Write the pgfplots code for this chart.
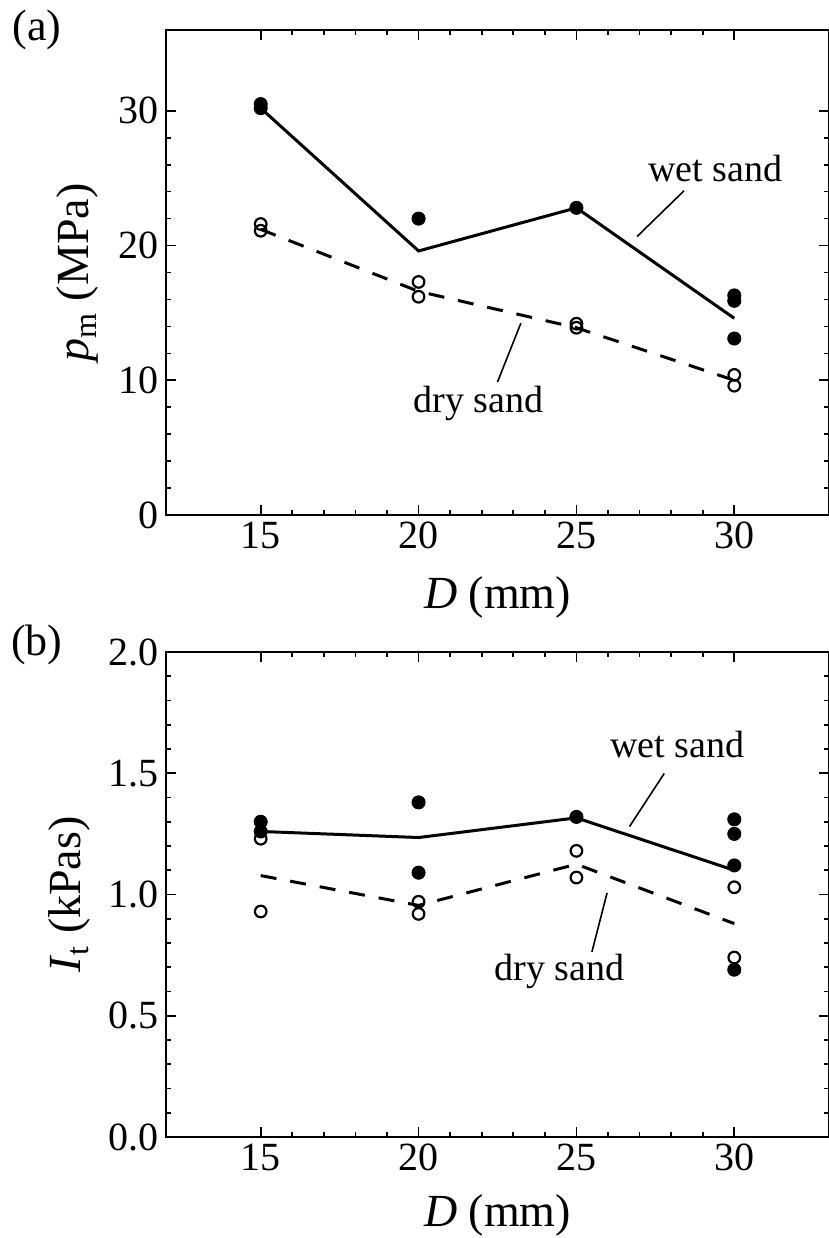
\documentclass[border=0pt]{standalone}
\usepackage{fontspec}
\setmainfont{Liberation Serif}
\usepackage{pgfplots}
\pgfplotsset{compat=1.18}
\begin{document}
\begin{tikzpicture}
\tikzset{note/.style={font=\fontsize{19}{23}\selectfont}}
\pgfplotsset{
  panel/.style={
    scale only axis, width=331.5pt, height=242.5pt,
    xmin=12, xmax=33, xtick={15,20,25,30},
    minor x tick num=4, minor y tick num=4,
    axis line style={line width=1pt},
    every tick/.style={black, line width=0.8pt},
    major tick length=5pt, minor tick length=2.5pt,
    tick align=inside,
    /pgf/number format/assume math mode=true,
    tick label style={font=\fontsize{20}{24}\selectfont},
    label style={font=\fontsize{23}{27}\selectfont},
    xlabel={\textit{D} (mm)},
    clip=false,
  },
  wetline/.style={black, line width=1.5pt, no markers},
  dryline/.style={black, line width=1.5pt, no markers, dash pattern=on 8pt off 7pt},
  wet/.style={only marks, mark=*, mark size=3.3pt, black},
  dry/.style={only marks, mark=o, mark size=2.9pt, black, mark options={line width=1.1pt}},
}
\path[use as bounding box] (-83pt,-361.5pt) rectangle (331.5pt,257.5pt);

% (a) peak pressure
\begin{axis}[panel, at={(0pt,0pt)},
  ymin=0, ymax=36, ytick={0,10,20,30},
  ylabel={\textit{p}\textsubscript{m} (MPa)},
  ylabel style={at={(axis description cs:-0.133,0.5)}, anchor=center},
  xlabel style={at={(axis description cs:0.5,-0.169)}, anchor=center}]
\addplot[wetline] coordinates {(15,30.2) (20,19.6) (25,22.8) (30,14.6)};
\addplot[dryline] coordinates {(15,21.2) (20,16.6) (25,13.9) (30,10.0)};
\addplot[wet] coordinates {(15,30.5) (15,30.2) (20,22.0) (25,22.8) (30,16.3) (30,15.9) (30,13.1)};
\addplot[dry] coordinates {(15,21.6) (15,21.1) (20,17.3) (20,16.2) (25,14.2) (25,13.9) (30,10.4) (30,9.6)};
\node[note] at (axis cs:29.4,25.7) {wet sand};
\draw[line width=0.8pt] (axis cs:28.41,24.07) -- (axis cs:26.92,20.67);
\node[note] at (axis cs:21.9,8.3) {dry sand};
\draw[line width=0.8pt] (axis cs:23.24,14.24) -- (axis cs:22.5,9.87);
\end{axis}
\node[font=\fontsize{22}{26}\selectfont] at (-64.5pt,242.5pt) {(a)};

% (b) impulse
\begin{axis}[panel, at={(0pt,-311pt)},
  ymin=0, ymax=2, ytick={0,0.5,1,1.5,2},
  yticklabel style={/pgf/number format/fixed, /pgf/number format/precision=1, /pgf/number format/fixed zerofill},
  ylabel={\textit{I}\textsubscript{t} (kPas)},
  ylabel style={at={(axis description cs:-0.145,0.5)}, anchor=center},
  xlabel style={at={(axis description cs:0.5,-0.161)}, anchor=center}]
\addplot[wetline] coordinates {(15,1.26) (20,1.235) (25,1.316) (30,1.10)};
\addplot[dryline] coordinates {(15,1.078) (20,0.955) (25,1.125) (30,0.88)};
\addplot[wet] coordinates {(15,1.30) (15,1.26) (20,1.38) (20,1.09) (25,1.32) (30,1.31) (30,1.25) (30,1.12) (30,0.69)};
\addplot[dry] coordinates {(15,1.23) (15,0.93) (20,0.97) (20,0.92) (25,1.18) (25,1.07) (30,1.03) (30,0.74)};
\node[note] at (axis cs:28.2,1.62) {wet sand};
\draw[line width=0.8pt] (axis cs:27.78,1.499) -- (axis cs:26.68,1.28);
\node[note] at (axis cs:24.47,0.681) {dry sand};
\draw[line width=0.8pt] (axis cs:25.97,1.006) -- (axis cs:25.49,0.763);
\end{axis}
\node[font=\fontsize{22}{26}\selectfont] at (-64.5pt,-65pt) {(b)};
\end{tikzpicture}
\end{document}
